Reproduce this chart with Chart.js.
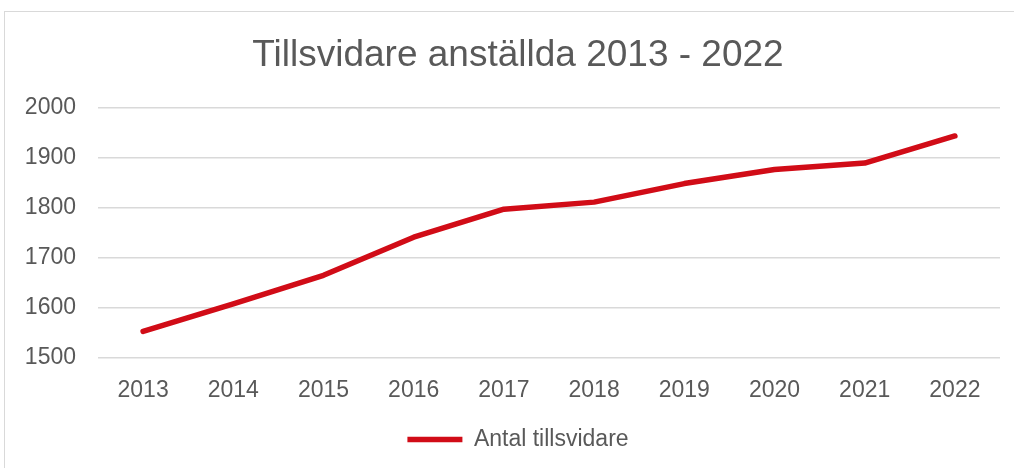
<!DOCTYPE html>
<html>
<head>
<meta charset="utf-8">
<script src="https://cdn.jsdelivr.net/npm/chart.js@4"></script>
<style>
    html, body { margin: 0; padding: 0; background: #fff; overflow: hidden; }
    #ram { position: absolute; left: 4px; top: 11px; width: 1040px; height: 500px; border: 1px solid #d9d9d9; pointer-events: none; }
    #wrap { position: absolute; left: 0; top: 0; width: 1050px; height: 468px; }
</style>
</head>
<body>
<div id="ram"></div>
<div id="wrap"><canvas id="graf"></canvas></div>
<script>
const ar = ['2013', '2014', '2015', '2016', '2017', '2018', '2019', '2020', '2021', '2022'];
const anstallda = [1553, 1608, 1665, 1741, 1797, 1811, 1848, 1876, 1889, 1943];
const serieNamn = 'Antal tillsvidare';
const rubrik = 'Tillsvidare anställda 2013 - 2022';

const graf = document.getElementById('graf');
const textfarg = '#595959';
const rod = '#d10c17';
const typsnitt = '"Liberation Sans", Arial, sans-serif';

new Chart(graf, {
    type: 'line',
    data: {
        labels: ar,
        datasets: [{
            label: serieNamn,
            data: anstallda,
            borderColor: rod,
            backgroundColor: rod,
            borderWidth: 5.5,
            borderCapStyle: 'round',
            borderJoinStyle: 'round',
            pointRadius: 0,
            tension: 0
        }]
    },
    options: {
        responsive: true,
        maintainAspectRatio: false,
        animation: false,
        layout: {
            padding: { left: 0, right: 14, top: 0, bottom: 7 }
        },
        plugins: {
            title: {
                display: true,
                text: rubrik,
                color: textfarg,
                font: { family: typsnitt, size: 37, weight: 'normal' },
                padding: { top: 34, bottom: 29 }
            },
            legend: {
                position: 'bottom',
                labels: {
                    color: textfarg,
                    font: { family: typsnitt, size: 23 },
                    usePointStyle: true,
                    pointStyle: 'line',
                    pointStyleWidth: 55,
                    padding: 10
                }
            },
            tooltip: { enabled: false }
        },
        scales: {
            x: {
                offset: true,
                grid: { display: false, drawTicks: false },
                border: { display: false },
                ticks: {
                    color: textfarg,
                    font: { family: typsnitt, size: 23 },
                    padding: 19
                },
                afterFit: (skala) => { skala.height = 60; }
            },
            y: {
                min: 1500,
                max: 2000,
                grid: { color: '#d9d9d9', lineWidth: 1.5, drawTicks: false },
                border: { display: false },
                ticks: {
                    stepSize: 100,
                    color: textfarg,
                    font: { family: typsnitt, size: 23 },
                    padding: 22,
                    callback: (v) => String(v)
                },
                afterFit: (skala) => { skala.width = 98; }
            },
            // tom axel till höger så att rubrik och förklaring hamnar rätt
            hoger: {
                position: 'right',
                grid: { display: false, drawTicks: false },
                border: { display: false },
                ticks: { display: false },
                afterFit: (skala) => { skala.width = 36; }
            }
        }
    }
});
</script>
</body>
</html>
